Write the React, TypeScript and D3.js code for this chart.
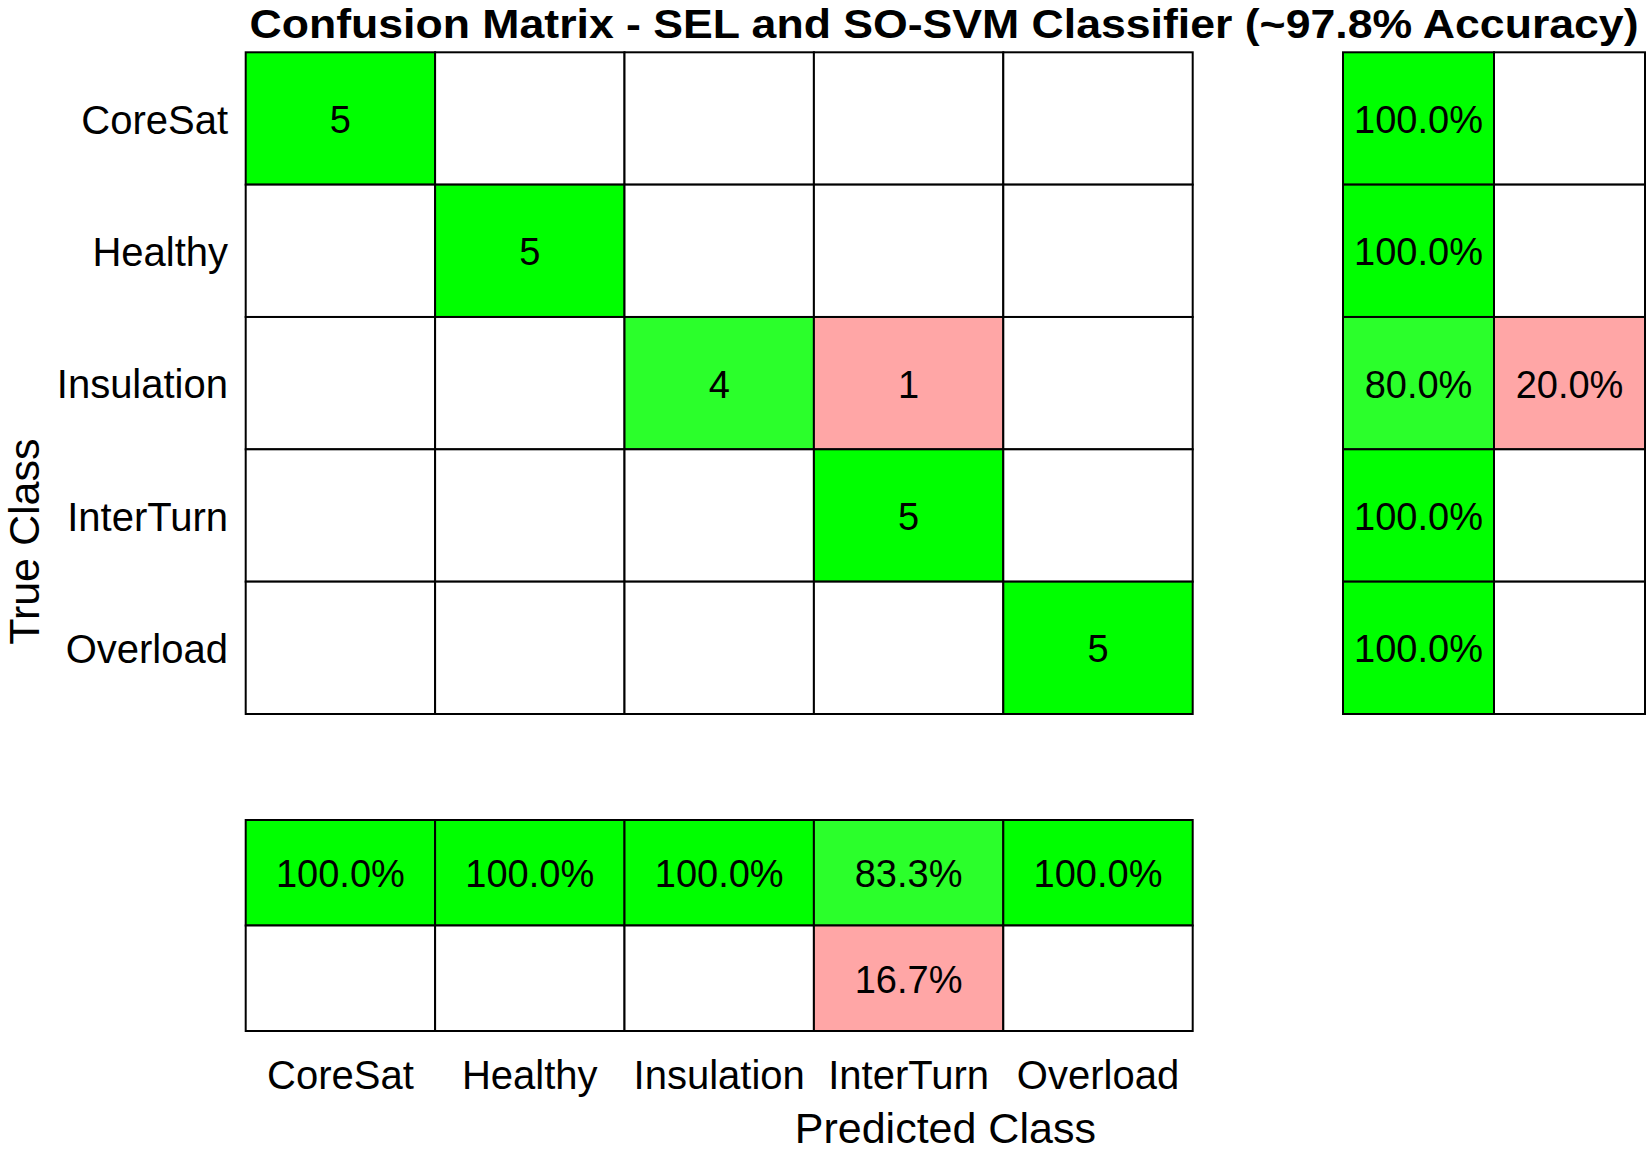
import React, { useEffect, useRef } from 'react';
import * as d3 from 'd3';

const classes = ['CoreSat', 'Healthy', 'Insulation', 'InterTurn', 'Overload'];

// rows = true class, columns = predicted class
const countsCoreSat = [5, 0, 0, 0, 0];
const countsHealthy = [0, 5, 0, 0, 0];
const countsInsulation = [0, 0, 4, 1, 0];
const countsInterTurn = [0, 0, 0, 5, 0];
const countsOverload = [0, 0, 0, 0, 5];
const counts = [countsCoreSat, countsHealthy, countsInsulation, countsInterTurn, countsOverload];

// row summary (true positive rate / false negative rate)
const rowCorrectPct = [100.0, 100.0, 80.0, 100.0, 100.0];
const rowWrongPct = [0, 0, 20.0, 0, 0];

// column summary (precision / false discovery rate)
const colCorrectPct = [100.0, 100.0, 100.0, 83.3, 100.0];
const colWrongPct = [0, 0, 0, 16.7, 0];

const title = 'Confusion Matrix - SEL and SO-SVM Classifier (~97.8% Accuracy)';

const WIDTH = 1650;
const HEIGHT = 1153;

const App: React.FC = () => {
  const svgRef = useRef<SVGSVGElement>(null);

  useEffect(() => {
    document.body.style.margin = '0';
    if (!svgRef.current) return;
    const svg = d3.select(svgRef.current);
    svg.selectAll('*').remove();

    const font = '"Liberation Sans", Arial, sans-serif';
    const fullGreen = '#00ff00';
    const partGreen = '#2bff2b';
    const errPink = '#ffa6a6';

    // main matrix extents
    const left = 245.7, right = 1192.7, top = 52.3, bottom = 714;
    const x = d3.scaleBand<string>().domain(classes).range([left, right]);
    const y = d3.scaleBand<string>().domain(classes).range([top, bottom]);

    // right summary panel
    const xr = d3.scaleBand<string>().domain(['ok', 'err']).range([1343, 1645]);
    // bottom summary panel
    const yb = d3.scaleBand<string>().domain(['ok', 'err']).range([820, 1031]);

    const cellColor = (v: number, max: number, correct: boolean) => {
      if (v === 0) return '#ffffff';
      if (!correct) return errPink;
      return v >= max ? fullGreen : partGreen;
    };

    const cellData: { r: string; c: string; v: number; diag: boolean }[] = [];
    counts.forEach((row, i) => {
      row.forEach((v, j) => {
        cellData.push({ r: classes[i], c: classes[j], v, diag: i === j });
      });
    });

    const g = svg.append('g');

    const drawCell = (
      xx: number, yy: number, w: number, h: number, fill: string, label: string
    ) => {
      g.append('rect')
        .attr('x', xx)
        .attr('y', yy)
        .attr('width', w)
        .attr('height', h)
        .attr('fill', fill)
        .attr('stroke', '#000')
        .attr('stroke-width', 2);
      if (label) {
        g.append('text')
          .attr('x', xx + w / 2)
          .attr('y', yy + h / 2)
          .attr('dy', '0.38em')
          .attr('text-anchor', 'middle')
          .attr('font-family', font)
          .attr('font-size', 38)
          .attr('fill', '#000')
          .text(label);
      }
    };

    cellData.forEach(d => {
      drawCell(
        x(d.c) || 0, y(d.r) || 0, x.bandwidth(), y.bandwidth(),
        cellColor(d.v, 5, d.diag), d.v === 0 ? '' : String(d.v)
      );
    });

    const pct = (v: number) => (v === 0 ? '' : `${v.toFixed(1)}%`);

    classes.forEach((cls, i) => {
      drawCell(xr('ok') || 0, y(cls) || 0, xr.bandwidth(), y.bandwidth(),
        cellColor(rowCorrectPct[i], 100, true), pct(rowCorrectPct[i]));
      drawCell(xr('err') || 0, y(cls) || 0, xr.bandwidth(), y.bandwidth(),
        cellColor(rowWrongPct[i], 100, false), pct(rowWrongPct[i]));

      drawCell(x(cls) || 0, yb('ok') || 0, x.bandwidth(), yb.bandwidth(),
        cellColor(colCorrectPct[i], 100, true), pct(colCorrectPct[i]));
      drawCell(x(cls) || 0, yb('err') || 0, x.bandwidth(), yb.bandwidth(),
        cellColor(colWrongPct[i], 100, false), pct(colWrongPct[i]));
    });

    // row tick labels
    svg.append('g')
      .selectAll('text')
      .data(classes)
      .join('text')
      .attr('x', 228)
      .attr('y', d => (y(d) || 0) + y.bandwidth() / 2)
      .attr('dy', '0.38em')
      .attr('text-anchor', 'end')
      .attr('font-family', font)
      .attr('font-size', 40)
      .attr('fill', '#000')
      .text(d => d);

    // column tick labels
    svg.append('g')
      .selectAll('text')
      .data(classes)
      .join('text')
      .attr('x', d => (x(d) || 0) + x.bandwidth() / 2)
      .attr('y', 1089)
      .attr('text-anchor', 'middle')
      .attr('font-family', font)
      .attr('font-size', 40)
      .attr('fill', '#000')
      .text(d => d);

    // axis titles
    svg.append('text')
      .attr('x', (left + 1645) / 2)
      .attr('y', 1143)
      .attr('text-anchor', 'middle')
      .attr('font-family', font)
      .attr('font-size', 43)
      .attr('fill', '#000')
      .text('Predicted Class');

    svg.append('text')
      .attr('transform', `translate(39, ${(top + 1031) / 2}) rotate(-90)`)
      .attr('text-anchor', 'middle')
      .attr('font-family', font)
      .attr('font-size', 43)
      .attr('fill', '#000')
      .text('True Class');

    // title
    svg.append('text')
      .attr('x', 944)
      .attr('y', 38)
      .attr('text-anchor', 'middle')
      .attr('font-family', font)
      .attr('font-size', 41)
      .attr('font-weight', 'bold')
      .attr('fill', '#000')
      .attr('textLength', 1389)
      .attr('lengthAdjust', 'spacingAndGlyphs')
      .text(title);
  }, []);

  return (
    <svg
      ref={svgRef}
      width={WIDTH}
      height={HEIGHT}
      style={{ display: 'block', background: '#fff' }}
    />
  );
};

export default App;
